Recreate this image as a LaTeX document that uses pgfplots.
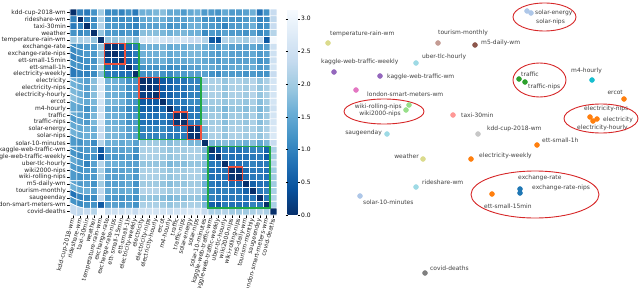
\documentclass[border=0pt]{standalone}
\usepackage{fontspec}
\setmainfont{DejaVu Sans}
\usepackage{pgfplots}
\pgfplotsset{compat=1.18}
\definecolor{cblue}{HTML}{1F77B4}
\definecolor{clblue}{HTML}{AEC7E8}
\definecolor{corange}{HTML}{FF7F0E}
\definecolor{csalmon}{HTML}{FF9896}
\definecolor{cgreen}{HTML}{2CA02C}
\definecolor{clgreen}{HTML}{98DF8A}
\definecolor{cpurple}{HTML}{9467BD}
\definecolor{cpink}{HTML}{E377C2}
\definecolor{cbrown}{HTML}{8C564B}
\definecolor{clbrown}{HTML}{C49C94}
\definecolor{colive}{HTML}{DBDB8D}
\definecolor{ccyanl}{HTML}{9EDAE5}
\definecolor{ccyan}{HTML}{17BECF}
\definecolor{cgray}{HTML}{C7C7C7}
\definecolor{cdgray}{HTML}{7F7F7F}
\definecolor{cred}{HTML}{D62728}
\definecolor{boxred}{HTML}{F0503A}
\definecolor{boxgreen}{HTML}{22AA44}
\newcommand{\sz}{\fontsize{6}{7}\selectfont}
\tikzset{lab/.style={font=\sz, text=black!75, inner sep=1pt}}
\begin{document}
\begin{tikzpicture}
\useasboundingbox (0,0) rectangle (640bp,288bp);
\begin{axis}[
  at={(70bp,73bp)}, anchor=south west,
  scale only axis, width=207bp, height=206bp,
  xmin=-0.5, xmax=29.5, ymin=-0.5, ymax=29.5,
  y dir=reverse, enlargelimits=false,
  axis line style={draw=none},
  tick pos=left, tick align=outside, major tick length=2.5bp,
  tick style={black, line width=0.4pt},
  xtick={0,...,29}, ytick={0,...,29},
  xticklabels={kdd-cup-2018-wm,rideshare-wm,taxi-30min,weather,temperature-rain-wm,exchange-rate,exchange-rate-nips,ett-small-15min,ett-small-1h,electricity-weekly,electricity,electricity-nips,electricity-hourly,ercot,m4-hourly,traffic,traffic-nips,solar-energy,solar-nips,solar-10-minutes,kaggle-web-traffic-wm,kaggle-web-traffic-weekly,uber-tlc-hourly,wiki2000-nips,wiki-rolling-nips,m5-daily-wm,tourism-monthly,saugeenday,london-smart-meters-wm,covid-deaths},
  yticklabels={kdd-cup-2018-wm,rideshare-wm,taxi-30min,weather,temperature-rain-wm,exchange-rate,exchange-rate-nips,ett-small-15min,ett-small-1h,electricity-weekly,electricity,electricity-nips,electricity-hourly,ercot,m4-hourly,traffic,traffic-nips,solar-energy,solar-nips,solar-10-minutes,kaggle-web-traffic-wm,kaggle-web-traffic-weekly,uber-tlc-hourly,wiki2000-nips,wiki-rolling-nips,m5-daily-wm,tourism-monthly,saugeenday,london-smart-meters-wm,covid-deaths},
  xticklabel style={font=\sz, rotate=75, anchor=east, inner sep=1pt, text=black!85},
  yticklabel style={font=\sz, inner sep=1.5pt, text=black!85},
  colormap={bluesr}{rgb255=(8,48,107) rgb255=(8,81,156) rgb255=(33,113,181) rgb255=(66,146,198) rgb255=(107,174,214) rgb255=(158,202,225) rgb255=(198,219,239) rgb255=(222,235,247) rgb255=(247,251,255)},
  point meta min=0, point meta max=3.15,
  colorbar,
  colorbar style={
    at={(parent axis.north east)}, anchor=north west, xshift=2bp,
    width=10bp, y dir=normal,
    ytick={0,0.5,1,1.5,2,2.5,3},
    axis line style={draw=none},
    tick align=outside, major tick length=2bp,
    yticklabel style={font=\sz, inner sep=1.5pt, /pgf/number format/assume math mode=true,
      /pgf/number format/fixed, /pgf/number format/fixed zerofill, /pgf/number format/precision=1},
  },
]
\addplot[matrix plot*, shader=faceted, faceted color=white, line width=0.7bp, mesh/cols=30, point meta=explicit]
 table[row sep=\\, x expr={mod(\coordindex,30)}, y expr={floor(\coordindex/30)}, meta=v] {
v\\
0.0\\1.0\\0.9\\1.2\\2.0\\1.1\\1.1\\1.0\\1.2\\0.9\\1.6\\1.6\\1.7\\1.8\\1.5\\1.5\\1.3\\1.5\\1.6\\1.3\\1.3\\1.2\\1.5\\1.3\\1.3\\1.4\\1.6\\0.8\\1.2\\2.4\\
1.0\\0.0\\1.0\\1.1\\2.1\\1.2\\1.2\\1.1\\1.2\\1.0\\1.5\\1.5\\1.6\\1.6\\1.4\\1.4\\1.4\\1.5\\1.5\\1.2\\1.2\\1.1\\1.3\\1.2\\1.2\\1.3\\1.5\\1.0\\1.1\\2.3\\
0.9\\1.0\\0.0\\1.2\\2.2\\1.3\\1.3\\1.2\\1.1\\1.0\\1.4\\1.4\\1.4\\1.5\\1.2\\1.3\\1.3\\1.6\\1.6\\1.4\\1.3\\1.2\\1.0\\1.3\\1.3\\1.4\\1.6\\1.1\\1.2\\2.4\\
1.2\\1.1\\1.2\\0.0\\1.9\\1.3\\1.3\\1.2\\1.3\\1.1\\1.8\\1.8\\1.8\\1.7\\1.6\\1.7\\1.7\\1.6\\1.6\\1.1\\1.3\\1.2\\1.4\\1.3\\1.3\\1.2\\1.4\\1.1\\1.2\\2.2\\
2.0\\2.1\\2.2\\1.9\\0.0\\1.9\\1.9\\2.0\\2.0\\1.8\\2.7\\2.7\\2.7\\2.6\\2.5\\2.6\\2.6\\2.4\\2.4\\2.2\\0.5\\0.4\\2.2\\2.1\\2.1\\2.0\\2.3\\2.3\\0.5\\3.1\\
1.1\\1.2\\1.3\\1.3\\1.9\\0.0\\0.1\\0.3\\0.7\\0.9\\1.6\\1.6\\1.6\\1.7\\1.5\\1.6\\1.6\\1.7\\1.7\\1.6\\1.4\\1.3\\1.6\\1.4\\1.4\\1.4\\1.5\\1.3\\1.4\\2.5\\
1.1\\1.2\\1.3\\1.3\\1.9\\0.1\\0.0\\0.3\\0.7\\0.9\\1.6\\1.6\\1.6\\1.7\\1.5\\1.6\\1.6\\1.7\\1.7\\1.6\\1.4\\1.3\\1.6\\1.4\\1.4\\1.4\\1.5\\1.3\\1.4\\2.5\\
1.0\\1.1\\1.2\\1.2\\2.0\\0.3\\0.3\\0.0\\0.6\\0.8\\1.5\\1.5\\1.5\\1.6\\1.4\\1.5\\1.5\\1.6\\1.6\\1.5\\1.4\\1.3\\1.5\\1.4\\1.4\\1.4\\1.5\\1.2\\1.3\\2.5\\
1.2\\1.2\\1.1\\1.3\\2.0\\0.7\\0.7\\0.6\\0.0\\0.8\\1.2\\1.2\\1.2\\1.3\\1.1\\1.2\\1.2\\1.4\\1.4\\1.6\\1.5\\1.4\\1.4\\1.5\\1.5\\1.5\\1.6\\1.3\\1.4\\2.6\\
0.9\\1.0\\1.0\\1.1\\1.8\\0.9\\0.9\\0.8\\0.8\\0.0\\1.2\\1.2\\1.3\\1.2\\1.1\\1.3\\1.3\\1.4\\1.4\\1.4\\1.2\\1.1\\1.4\\1.3\\1.3\\1.2\\1.3\\1.2\\1.2\\2.4\\
1.6\\1.5\\1.4\\1.8\\2.7\\1.6\\1.6\\1.5\\1.2\\1.2\\0.0\\0.1\\0.2\\0.5\\0.6\\0.8\\0.8\\1.0\\1.0\\2.0\\2.1\\2.1\\1.9\\2.1\\2.1\\2.0\\2.2\\1.9\\2.1\\2.6\\
1.6\\1.5\\1.4\\1.8\\2.7\\1.6\\1.6\\1.5\\1.2\\1.2\\0.1\\0.0\\0.2\\0.5\\0.6\\0.8\\0.8\\1.0\\1.0\\2.0\\2.1\\2.1\\1.9\\2.1\\2.1\\2.0\\2.2\\1.9\\2.1\\2.6\\
1.7\\1.6\\1.4\\1.8\\2.7\\1.6\\1.6\\1.5\\1.2\\1.3\\0.2\\0.2\\0.0\\0.5\\0.6\\0.8\\0.8\\1.0\\1.0\\2.0\\2.1\\2.1\\1.9\\2.1\\2.1\\2.0\\2.2\\1.9\\2.1\\2.6\\
1.8\\1.6\\1.5\\1.7\\2.6\\1.7\\1.7\\1.6\\1.3\\1.2\\0.5\\0.5\\0.5\\0.0\\0.7\\0.9\\0.9\\1.1\\1.1\\1.9\\2.0\\2.0\\1.9\\2.0\\2.0\\1.9\\2.1\\1.8\\2.0\\2.6\\
1.5\\1.4\\1.2\\1.6\\2.5\\1.5\\1.5\\1.4\\1.1\\1.1\\0.6\\0.6\\0.6\\0.7\\0.0\\0.7\\0.7\\0.9\\0.9\\1.8\\1.9\\1.9\\1.7\\1.9\\1.9\\1.8\\2.0\\1.7\\1.9\\2.5\\
1.5\\1.4\\1.3\\1.7\\2.6\\1.6\\1.6\\1.5\\1.2\\1.3\\0.8\\0.8\\0.8\\0.9\\0.7\\0.0\\0.1\\0.9\\0.9\\1.9\\2.0\\2.0\\1.8\\2.0\\2.0\\1.9\\2.1\\1.8\\2.0\\2.6\\
1.3\\1.4\\1.3\\1.7\\2.6\\1.6\\1.6\\1.5\\1.2\\1.3\\0.8\\0.8\\0.8\\0.9\\0.7\\0.1\\0.0\\0.9\\0.9\\1.9\\2.0\\2.0\\1.8\\2.0\\2.0\\1.9\\2.1\\1.8\\2.0\\2.6\\
1.5\\1.5\\1.6\\1.6\\2.4\\1.7\\1.7\\1.6\\1.4\\1.4\\1.0\\1.0\\1.0\\1.1\\0.9\\0.9\\0.9\\0.0\\0.1\\1.7\\2.1\\2.1\\1.9\\2.1\\2.1\\2.0\\2.1\\1.9\\2.1\\2.7\\
1.6\\1.5\\1.6\\1.6\\2.4\\1.7\\1.7\\1.6\\1.4\\1.4\\1.0\\1.0\\1.0\\1.1\\0.9\\0.9\\0.9\\0.1\\0.0\\1.7\\2.1\\2.1\\1.9\\2.1\\2.1\\2.0\\2.1\\1.9\\2.1\\2.7\\
1.3\\1.2\\1.4\\1.1\\2.2\\1.6\\1.6\\1.5\\1.6\\1.4\\2.0\\2.0\\2.0\\1.9\\1.8\\1.9\\1.9\\1.7\\1.7\\0.0\\1.7\\1.7\\1.8\\1.7\\1.7\\1.6\\1.8\\1.5\\1.7\\2.4\\
1.3\\1.2\\1.3\\1.3\\0.5\\1.4\\1.4\\1.4\\1.5\\1.2\\2.1\\2.1\\2.1\\2.0\\1.9\\2.0\\2.0\\2.1\\2.1\\1.7\\0.0\\0.4\\0.9\\0.8\\0.8\\0.9\\1.0\\1.0\\0.6\\2.1\\
1.2\\1.1\\1.2\\1.2\\0.4\\1.3\\1.3\\1.3\\1.4\\1.1\\2.1\\2.1\\2.1\\2.0\\1.9\\2.0\\2.0\\2.1\\2.1\\1.7\\0.4\\0.0\\0.9\\0.8\\0.8\\0.8\\0.9\\0.9\\0.5\\2.1\\
1.5\\1.3\\1.0\\1.4\\2.2\\1.6\\1.6\\1.5\\1.4\\1.4\\1.9\\1.9\\1.9\\1.9\\1.7\\1.8\\1.8\\1.9\\1.9\\1.8\\0.9\\0.9\\0.0\\0.8\\0.8\\0.9\\1.0\\0.9\\0.9\\2.2\\
1.3\\1.2\\1.3\\1.3\\2.1\\1.4\\1.4\\1.4\\1.5\\1.3\\2.1\\2.1\\2.1\\2.0\\1.9\\2.0\\2.0\\2.1\\2.1\\1.7\\0.8\\0.8\\0.8\\0.0\\0.1\\0.7\\0.9\\0.9\\0.8\\2.0\\
1.3\\1.2\\1.3\\1.3\\2.1\\1.4\\1.4\\1.4\\1.5\\1.3\\2.1\\2.1\\2.1\\2.0\\1.9\\2.0\\2.0\\2.1\\2.1\\1.7\\0.8\\0.8\\0.8\\0.1\\0.0\\0.7\\0.9\\0.9\\0.8\\2.0\\
1.4\\1.3\\1.4\\1.2\\2.0\\1.4\\1.4\\1.4\\1.5\\1.2\\2.0\\2.0\\2.0\\1.9\\1.8\\1.9\\1.9\\2.0\\2.0\\1.6\\0.9\\0.8\\0.9\\0.7\\0.7\\0.0\\0.6\\0.8\\0.8\\2.0\\
1.6\\1.5\\1.6\\1.4\\2.3\\1.5\\1.5\\1.5\\1.6\\1.3\\2.2\\2.2\\2.2\\2.1\\2.0\\2.1\\2.1\\2.1\\2.1\\1.8\\1.0\\0.9\\1.0\\0.9\\0.9\\0.6\\0.0\\0.9\\1.0\\2.1\\
0.8\\1.0\\1.1\\1.1\\2.3\\1.3\\1.3\\1.2\\1.3\\1.2\\1.9\\1.9\\1.9\\1.8\\1.7\\1.8\\1.8\\1.9\\1.9\\1.5\\1.0\\0.9\\0.9\\0.9\\0.9\\0.8\\0.9\\0.0\\0.9\\2.2\\
1.2\\1.1\\1.2\\1.2\\0.5\\1.4\\1.4\\1.3\\1.4\\1.2\\2.1\\2.1\\2.1\\2.0\\1.9\\2.0\\2.0\\2.1\\2.1\\1.7\\0.6\\0.5\\0.9\\0.8\\0.8\\0.8\\1.0\\0.9\\0.0\\2.1\\
2.4\\2.3\\2.4\\2.2\\3.1\\2.5\\2.5\\2.5\\2.6\\2.4\\2.6\\2.6\\2.6\\2.6\\2.5\\2.6\\2.6\\2.7\\2.7\\2.4\\2.1\\2.1\\2.2\\2.0\\2.0\\2.0\\2.1\\2.2\\2.1\\0.0\\
};
% green cluster boxes
\addplot[boxgreen, line width=1.6bp, mark=none, line join=miter] coordinates {(4.5,4.5) (9.5,4.5) (9.5,9.5) (4.5,9.5) (4.5,4.5) (9.5,4.5)};
\addplot[boxgreen, line width=1.6bp, mark=none, line join=miter] coordinates {(9.5,9.5) (18.5,9.5) (18.5,18.5) (9.5,18.5) (9.5,9.5) (18.5,9.5)};
\addplot[boxgreen, line width=1.6bp, mark=none, line join=miter] coordinates {(19.5,19.5) (28.5,19.5) (28.5,28.5) (19.5,28.5) (19.5,19.5) (28.5,19.5)};
% red sub-cluster boxes
\addplot[boxred, line width=1.4bp, mark=none, line join=miter] coordinates {(4.5,4.5) (7.5,4.5) (7.5,7.5) (4.5,7.5) (4.5,4.5) (7.5,4.5)};
\addplot[boxred, line width=1.4bp, mark=none, line join=miter] coordinates {(9.5,9.5) (12.5,9.5) (12.5,12.5) (9.5,12.5) (9.5,9.5) (12.5,9.5)};
\addplot[boxred, line width=1.4bp, mark=none, line join=miter] coordinates {(14.5,14.5) (16.5,14.5) (16.5,16.5) (14.5,16.5) (14.5,14.5) (16.5,14.5)};
\addplot[boxred, line width=1.4bp, mark=none, line join=miter] coordinates {(16.5,16.5) (18.5,16.5) (18.5,18.5) (16.5,18.5) (16.5,16.5) (18.5,16.5)};
\addplot[boxred, line width=1.4bp, mark=none, line join=miter] coordinates {(22.5,22.5) (24.5,22.5) (24.5,24.5) (22.5,24.5) (22.5,22.5) (24.5,22.5)};
\end{axis}

\begin{axis}[
  at={(300bp,0bp)}, anchor=south west,
  scale only axis, width=340bp, height=288bp,
  xmin=300, xmax=640, ymin=0, ymax=288, y dir=reverse,
  hide axis, clip=false,
]
\addplot[only marks, mark=*, mark size=2.5bp, color=cblue] coordinates {(520,189) (520,193)};
\addplot[only marks, mark=*, mark size=2.5bp, color=clblue] coordinates {(527,11) (531,13) (360,196)};
\addplot[only marks, mark=*, mark size=2.5bp, color=corange] coordinates {(593,121) (590,117) (597,119) (624,99) (537,145) (492,194) (471,159)};
\addplot[only marks, mark=*, mark size=2.5bp, color=csalmon] coordinates {(453,115)};
\addplot[only marks, mark=*, mark size=2.5bp, color=cgreen] coordinates {(519,79) (525,82)};
\addplot[only marks, mark=*, mark size=2.5bp, color=clgreen] coordinates {(409,105) (406,110)};
\addplot[only marks, mark=*, mark size=2.5bp, color=cpurple] coordinates {(334,72) (380,76)};
\addplot[only marks, mark=*, mark size=2.5bp, color=cpink] coordinates {(356,90)};
\addplot[only marks, mark=*, mark size=2.5bp, color=cbrown] coordinates {(475,45)};
\addplot[only marks, mark=*, mark size=2.5bp, color=clbrown] coordinates {(438,43)};
\addplot[only marks, mark=*, mark size=2.5bp, color=colive] coordinates {(328,43) (423,159)};
\addplot[only marks, mark=*, mark size=2.5bp, color=ccyanl] coordinates {(416,63) (387,134) (416,187)};
\addplot[only marks, mark=*, mark size=2.5bp, color=ccyan] coordinates {(592,80)};
\addplot[only marks, mark=*, mark size=2.5bp, color=cgray] coordinates {(478,134)};
\addplot[only marks, mark=*, mark size=2.5bp, color=cdgray] coordinates {(425,273)};

\node[lab, anchor=west] at (axis cs:534,13) {solar-energy};
\node[lab, anchor=west] at (axis cs:535,22) {solar-nips};
\node[lab, anchor=west] at (axis cs:437,33) {tourism-monthly};
\node[lab, anchor=west] at (axis cs:480,43) {m5-daily-wm};
\node[lab, anchor=west] at (axis cs:329,34) {temperature-rain-wm};
\node[lab, anchor=west] at (axis cs:421,57) {uber-tlc-hourly};
\node[lab, anchor=west] at (axis cs:320,62) {kaggle-web-traffic-weekly};
\node[lab, anchor=west] at (axis cs:386,77) {kaggle-web-traffic-wm};
\node[lab, anchor=west] at (axis cs:366,94) {london-smart-meters-wm};
\node[lab, anchor=east] at (axis cs:403,107) {wiki-rolling-nips};
\node[lab, anchor=east] at (axis cs:402,114) {wiki2000-nips};
\node[lab, anchor=west] at (axis cs:460,115) {taxi-30min};
\node[lab, anchor=east] at (axis cs:383,133) {saugeenday};
\node[lab, anchor=west] at (axis cs:520,74) {traffic};
\node[lab, anchor=west] at (axis cs:527,87) {traffic-nips};
\node[lab, anchor=west] at (axis cs:570,71) {m4-hourly};
\node[lab, anchor=east] at (axis cs:624,92) {ercot};
\node[lab, anchor=west] at (axis cs:583,109) {electricity-nips};
\node[lab, anchor=west] at (axis cs:602,120) {electricity};
\node[lab, anchor=west] at (axis cs:576,128) {electricity-hourly};
\node[lab, anchor=west] at (axis cs:486,129) {kdd-cup-2018-wm};
\node[lab, anchor=west] at (axis cs:541,140) {ett-small-1h};
\node[lab, anchor=west] at (axis cs:478,156) {electricity-weekly};
\node[lab, anchor=east] at (axis cs:420,156) {weather};
\node[lab, anchor=west] at (axis cs:421,182) {rideshare-wm};
\node[lab, anchor=west] at (axis cs:362,202) {solar-10-minutes};
\node[lab, anchor=west] at (axis cs:517,178) {exchange-rate};
\node[lab, anchor=west] at (axis cs:531,188) {exchange-rate-nips};
\node[lab, anchor=west] at (axis cs:483,206) {ett-small-15min};
\node[lab, anchor=west] at (axis cs:429,268) {covid-deaths};

\draw[cred, line width=0.9bp] (axis cs:544.5,17) ellipse [x radius=31.5bp, y radius=14bp];
\draw[cred, line width=0.9bp] (axis cs:384,111.5) ellipse [x radius=40bp, y radius=12.5bp];
\draw[cred, line width=0.9bp] (axis cs:539.5,80) ellipse [x radius=26.5bp, y radius=17bp];
\draw[cred, line width=0.9bp] (axis cs:601,118.5) ellipse [x radius=37bp, y radius=14.5bp];
\draw[cred, line width=0.9bp] (axis cs:535,194.5) ellipse [x radius=64bp, y radius=23.5bp];
\end{axis}
\end{tikzpicture}
\end{document}
